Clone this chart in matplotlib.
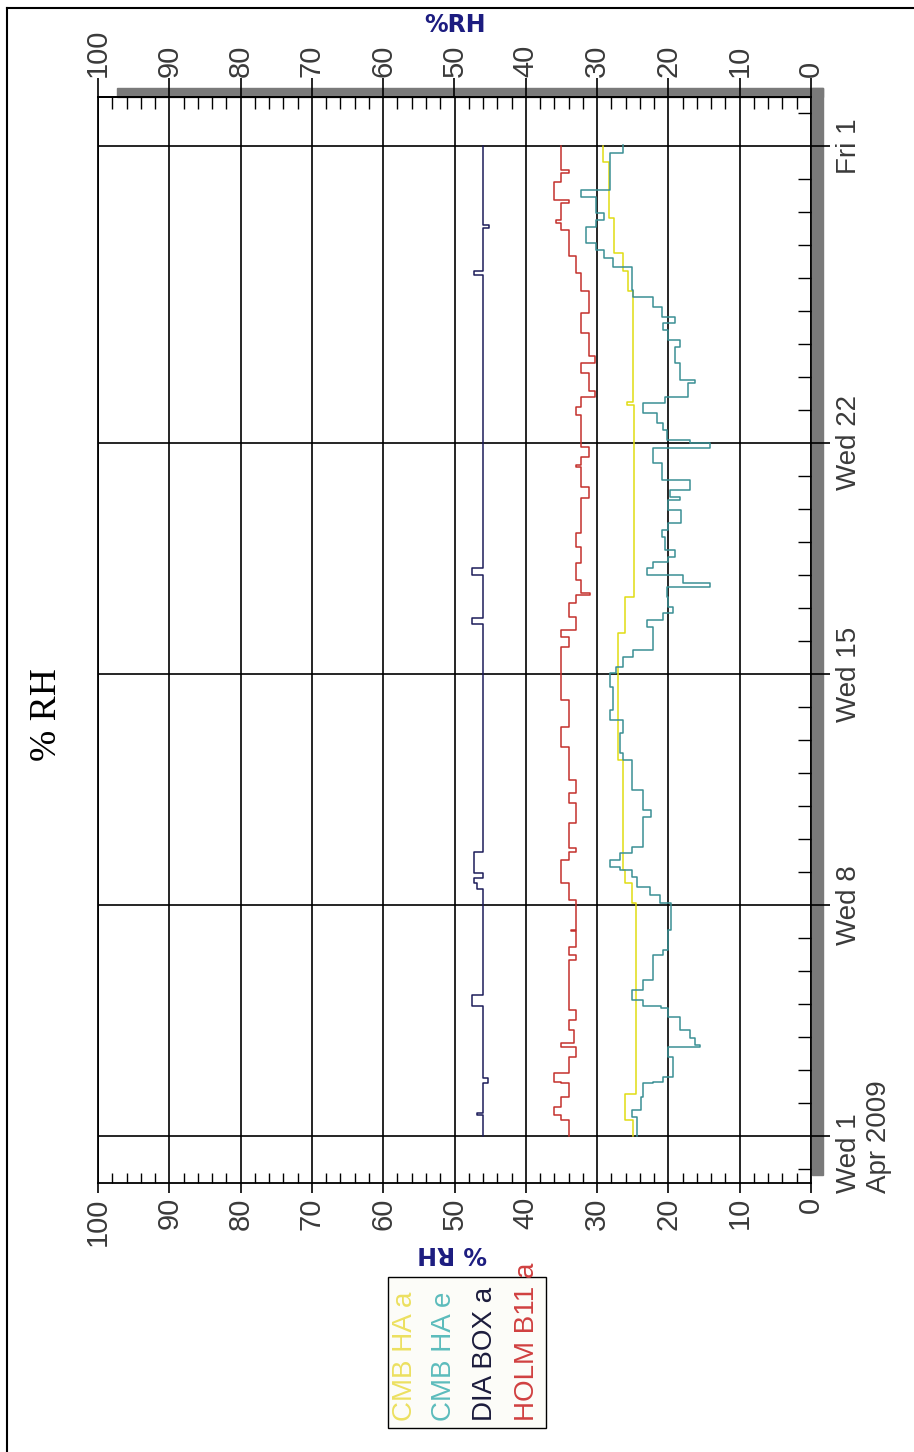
import matplotlib
matplotlib.use("Agg")
import matplotlib.pyplot as plt
from matplotlib import font_manager as fm
from matplotlib.patches import Rectangle
from matplotlib.lines import Line2D

# ---------------- data (day 0 = Wed 1 Apr 2009, day 30 = Fri 1 May) ----------------
days_holm = [30.0, 29.27, 29.17, 28.92, 28.36, 28.26, 27.76, 27.66, 27.45, 26.65, 26.14, 25.59,
             24.93, 24.32, 23.62, 23.41, 23.11, 22.56, 22.40, 22.10, 21.85, 20.89, 20.58, 20.33,
             20.28, 19.68, 19.32, 18.26, 17.86, 17.35, 16.85, 16.44, 16.40, 16.14, 15.74, 15.33,
             15.13, 14.83, 13.21, 12.40, 11.80, 10.79, 10.38, 10.08, 9.48, 8.72, 8.62, 8.36,
             7.66, 7.15, 6.24, 6.20, 5.74, 5.48, 5.33, 3.82, 3.52, 3.21, 2.81, 2.71, 2.40,
             1.90, 1.65, 1.60, 1.19, 0.89, 0.64, 0.48, 0.0]
rh_holm = [35.0, 33.9, 35.0, 36.0, 33.9, 35.0, 35.7, 35.0, 33.9, 32.9, 32.2, 31.1,
           32.2, 31.1, 30.3, 32.2, 31.1, 30.3, 32.2, 32.9, 32.2, 31.1, 32.2, 32.9,
           32.2, 31.1, 32.2, 32.9, 32.2, 32.9, 32.2, 31.0, 32.9, 33.9, 32.9, 35.0,
           33.9, 35.0, 33.9, 35.0, 33.9, 32.9, 33.9, 32.9, 33.9, 32.9, 33.9, 35.0,
           33.9, 32.9, 33.6, 32.9, 33.9, 32.9, 33.9, 32.9, 33.9, 33.3, 35.0, 32.9, 33.9,
           36.0, 35.0, 33.9, 35.0, 36.0, 35.0, 33.9, 33.9]

days_cmb_a = [30.0, 29.5, 27.8, 26.75, 26.2, 25.6, 22.25, 22.15, 16.34, 15.23, 11.39,
              8.06, 7.66, 7.05, 1.29, 0.48, 0.0]
rh_cmb_a = [29.2, 28.3, 27.6, 26.4, 25.6, 25.0, 25.8, 24.8, 26.1, 27.0, 26.3,
            26.1, 25.1, 24.6, 26.1, 25.0, 25.0]

days_cmb_e = [30.03, 29.78, 28.67, 28.46, 27.96, 27.76, 27.55, 27.05, 26.85, 26.6,
              26.34, 25.64, 25.43, 25.13, 24.83, 24.63, 24.42, 24.12, 23.92, 23.41,
              22.91, 22.81, 22.40, 22.20, 21.90, 21.60, 21.39, 21.09, 21.0, 20.85,
              20.38, 19.88, 19.58, 19.37, 19.27, 18.97, 18.57, 18.36, 18.16, 17.76,
              17.55, 17.40, 17.2, 17.0, 16.75, 16.65, 16.34, 16.04, 15.84, 15.64,
              15.43, 14.73, 14.52, 14.22, 14.02, 13.62, 12.91, 12.61, 12.20, 11.60,
              11.39, 10.48, 9.88, 9.68, 8.77, 8.57, 8.36, 8.16, 8.06, 7.86,
              7.55, 7.3, 7.05, 6.24, 5.64, 5.48, 4.73, 4.42, 4.12, 3.95,
              3.87, 3.62, 3.21, 2.96, 2.76, 2.71, 2.40, 1.80, 1.65, 1.60,
              1.19, 0.79, 0.59, 0.0]
rh_cmb_e = [26.3, 28.2, 32.2, 30.1, 29.1, 30.1, 31.5, 30.1, 29.1, 27.8,
            25.1, 24.9, 22.1, 20.9, 19.1, 20.7, 20.0, 18.4, 19.1, 18.4,
            16.3, 17.2, 20.5, 23.5, 21.6, 20.7, 20.2, 17.0, 14.2, 22.1,
            20.9, 17.0, 19.8, 18.4, 20.0, 18.2, 20.0, 20.9, 20.5, 19.1,
            20.0, 22.1, 23.0, 18.0, 14.2, 20.2, 20.0, 19.3, 20.7, 23.0,
            22.1, 24.9, 26.3, 27.3, 28.2, 27.7, 28.2, 26.3, 26.8, 26.3,
            25.1, 23.5, 22.4, 23.5, 25.1, 26.8, 28.2, 26.8, 25.1, 24.4,
            22.6, 21.2, 19.6, 20.0, 20.7, 22.1, 23.5, 25.1, 23.5, 21.0,
            20.0, 18.4, 17.0, 16.3, 15.6, 20.0, 19.3, 20.7, 22.1, 23.5,
            23.9, 25.1, 24.4, 24.4]

days_dia = [30.0, 27.6, 27.5, 26.2, 26.1, 17.2, 17.0, 15.7, 15.5, 8.62, 7.96, 7.81,
            7.66, 7.5, 4.27, 3.94, 1.75, 1.60, 0.70, 0.65, 0.0]
rh_dia = [46.0, 45.1, 46.0, 47.3, 46.0, 47.5, 46.0, 47.5, 46.0, 47.3, 46.0, 47.3,
          46.8, 46.0, 47.5, 46.0, 45.3, 46.0, 46.9, 46.0, 46.0]

series_names = ["CMB HA a", "CMB HA e", "DIA BOX a", "HOLM B11 a"]
series_colors = ["#e0dc14", "#3a9094", "#1c1c5a", "#c4302c"]
legend_text_colors = ["#ece060", "#5cbcbc", "#1c1c3c", "#d04040"]

rh_ticks = list(range(0, 101, 10))
date_tick_days = [0, 7, 14, 21, 30]
date_tick_labels = ["Wed 1\nApr 2009", "Wed 8", "Wed 15", "Wed 22", "Fri 1"]

# ---------------- fonts ----------------
avail = {f.name for f in fm.fontManager.ttflist}
NARROW = "Liberation Sans Narrow" if "Liberation Sans Narrow" in avail else "Liberation Sans"
SERIF = "Liberation Serif" if "Liberation Serif" in avail else "DejaVu Serif"

W, H = 914, 1452
fig = plt.figure(figsize=(W / 100, H / 100), dpi=100)
fig.patch.set_facecolor("white")

def fx(px):
    return px / W

def fy(py):
    return 1 - py / H

# axes: RH 100 at x=98, 0 at x=811 ; time from y=1183 (bottom) to y=97 (top)
ax = fig.add_axes([fx(98), fy(1183), fx(811) - fx(98), fy(97) - fy(1183)])
ax.set_xlim(100, 0)
ax.set_ylim(-1.42, 31.48)
ax.set_facecolor("white")

# gray shadow frame (top and right)
fig.patches.append(Rectangle((fx(117), fy(97)), fx(823) - fx(117), fy(88) - fy(97),
                             transform=fig.transFigure, color="#7a7a7a", zorder=-1))
fig.patches.append(Rectangle((fx(812), fy(1175)), fx(823) - fx(812), fy(88) - fy(1175),
                             transform=fig.transFigure, color="#7a7a7a", zorder=-1))
ax.patch.set_alpha(0)

# data
lw = 1.1
ax.plot(rh_cmb_a, days_cmb_a, drawstyle="steps-pre", color=series_colors[0], lw=lw, zorder=3)
ax.plot(rh_cmb_e, days_cmb_e, drawstyle="steps-pre", color=series_colors[1], lw=lw, zorder=4)
ax.plot(rh_dia, days_dia, drawstyle="steps-pre", color=series_colors[2], lw=lw, zorder=3)
ax.plot(rh_holm, days_holm, drawstyle="steps-pre", color=series_colors[3], lw=lw, zorder=3)

# grid
ax.set_axisbelow(True)
ax.grid(which="major", color="black", lw=1.2)

for s in ["left", "top", "bottom", "right"]:
    ax.spines[s].set_color("black")
    ax.spines[s].set_linewidth(1.3)

tick_color = "#3a3a3a"
# bottom RH axis
ax.set_xticks(rh_ticks)
ax.set_xticks([v for v in range(0, 101, 2) if v % 10], minor=True)
ax.tick_params(axis="x", which="major", direction="out", length=7.2, width=1.2,
               bottom=True, top=False, labelbottom=True, labeltop=False,
               labelrotation=90, labelsize=21, labelcolor=tick_color, pad=3)
ax.tick_params(axis="x", which="minor", direction="in", length=7.2, width=1.0,
               bottom=True, top=False)
for lab in ax.get_xticklabels():
    lab.set_fontfamily(NARROW)

# top RH axis
sec = ax.secondary_xaxis("top")
sec.set_xticks(rh_ticks)
sec.set_xticks([v for v in range(0, 101, 2) if v % 10], minor=True)
sec.tick_params(axis="x", which="major", direction="out", length=13.7, width=1.2,
                labelrotation=90, labelsize=21, labelcolor=tick_color, pad=1)
sec.tick_params(axis="x", which="minor", direction="in", length=8.4, width=1.0)
sec.spines["top"].set_linewidth(1.3)
for lab in sec.get_xticklabels():
    lab.set_fontfamily(NARROW)

# right date axis
ax.yaxis.tick_right()
ax.set_yticks(date_tick_days)
ax.set_yticklabels(date_tick_labels, rotation=90, va="center", ha="left",
                   multialignment="left", fontfamily=NARROW, fontsize=20, color=tick_color)
ax.set_yticks([d for d in range(-1, 32) if d not in date_tick_days], minor=True)
ax.tick_params(axis="y", which="major", direction="out", length=13.7, width=1.2,
               right=True, left=False, pad=4)
ax.tick_params(axis="y", which="minor", direction="in", length=9.4, width=1.0,
               right=True, left=False)

# titles / axis labels
fig.text(fx(47), fy(715), "% RH", rotation=90, ha="center", va="center",
         fontfamily=SERIF, fontsize=27, color="black")
fig.text(fx(455), fy(25), "%RH", ha="center", va="center", fontfamily="DejaVu Sans",
         fontweight="bold", fontsize=17, color="#1c1c80")
fig.text(fx(452), fy(1253), "% RH", rotation=180, ha="center", va="center",
         fontfamily="DejaVu Sans", fontweight="bold", fontsize=17, color="#1c1c80")

# legend box with coloured text
fig.patches.append(Rectangle((fx(388), fy(1428)), fx(546) - fx(388), fy(1277) - fy(1428),
                             transform=fig.transFigure, facecolor="#fcfcf8",
                             edgecolor="black", lw=1.0, zorder=1))
leg_x = [405, 444, 485, 527]
for name, col, xp in zip(series_names, legend_text_colors, leg_x):
    fig.text(fx(xp), fy(1421), name, rotation=90, ha="center", va="bottom",
             fontfamily=NARROW, fontsize=20, color=col, zorder=2)

# outer border (left and top)
fig.lines.append(Line2D([fx(7), fx(7)], [fy(8), fy(1452)], transform=fig.transFigure,
                        color="black", lw=1.5))
fig.lines.append(Line2D([fx(7), fx(914)], [fy(8), fy(8)], transform=fig.transFigure,
                        color="black", lw=1.5))

fig.savefig("out.png", dpi=100, facecolor="white")
